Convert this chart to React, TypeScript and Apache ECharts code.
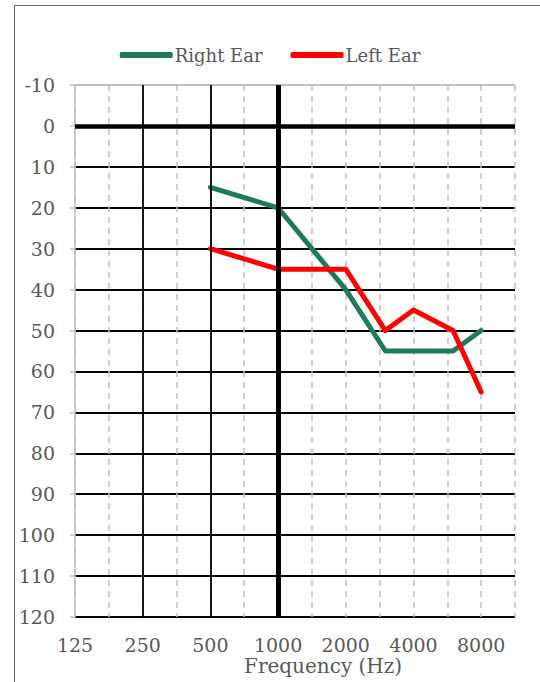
import React, { useEffect, useRef } from "react";
import * as echarts from "echarts";

// X tick labels (Hz), one every two grid steps
const freqLabels = ["125", "250", "500", "1000", "2000", "4000", "8000"];
// Measured frequencies (Hz)
const testFreqs = [500, 1000, 2000, 3000, 4000, 6000, 8000];
// Hearing thresholds (dB)
const rightEar = [15, 20, 40, 55, 55, 55, 50];
const leftEar = [30, 35, 35, 50, 45, 50, 65];
// Reference lines
const boldFreqs = [250, 500];
const heavyFreq = 1000;
const zeroLevel = 0;

const FONT = "DejaVu Serif";
const GREY_TXT = "#595959";
const GRID_GREY = "#c0c0c0";

// position on axis: 2 grid steps per octave starting at 125 Hz
const pos = (f: number) => Math.log2(f / 125) * 2;

export default function App() {
  const ref = useRef<HTMLDivElement>(null);
  useEffect(() => {
    if (!ref.current) return;
    const chart = echarts.init(ref.current, null, { renderer: "svg" });
    const yColors = [GRID_GREY];
    for (let i = 0; i < 13; i++) yColors.push("#000");
    chart.setOption({
      animation: false,
      backgroundColor: "#fff",
      grid: { left: 75, right: 25, top: 85, bottom: 65 },
      legend: {
        top: 41,
        left: "center",
        itemWidth: 53,
        itemHeight: 6,
        itemGap: 28,
        icon: "roundRect",
        textStyle: { fontFamily: FONT, fontSize: 18, color: GREY_TXT, padding: [0, 0, 0, -3] },
        data: ["Right Ear", "Left Ear"],
      },
      xAxis: {
        type: "value",
        min: 0,
        max: 13,
        interval: 1,
        axisLine: { show: true, lineStyle: { color: GRID_GREY } },
        axisTick: { show: false },
        axisLabel: {
          fontFamily: FONT,
          fontSize: 19,
          color: GREY_TXT,
          margin: 18,
          showMaxLabel: true,
          formatter: (v: number) => (v % 2 === 0 && v / 2 < freqLabels.length ? freqLabels[v / 2] : ""),
        },
        splitLine: { show: true, lineStyle: { color: GRID_GREY, width: 1.5, type: [6, 5] } },
      },
      yAxis: {
        type: "value",
        inverse: true,
        min: -10,
        max: 120,
        interval: 10,
        axisLine: { show: true, lineStyle: { color: GRID_GREY, width: 1.5 } },
        axisTick: { show: true, length: 5, lineStyle: { color: GRID_GREY, width: 1.5 } },
        axisLabel: { fontFamily: FONT, fontSize: 19, color: GREY_TXT, margin: 20 },
        splitLine: { show: true, lineStyle: { color: yColors, width: 1.8 } },
      },
      graphic: [
        {
          type: "rect",
          shape: { x: 14.5, y: 5.5, width: 540, height: 700 },
          style: { fill: "none", stroke: "#666", lineWidth: 1 },
          silent: true,
        },
        {
          type: "text",
          left: 244,
          top: 656,
          style: { text: "Frequency (Hz)", font: `20px "${FONT}"`, fill: GREY_TXT },
        },
      ],
      series: [
        {
          type: "line",
          name: "ref",
          data: [],
          z: 1,
          silent: true,
          markLine: {
            silent: true,
            symbol: "none",
            label: { show: false },
            animation: false,
            data: [
              { xAxis: pos(boldFreqs[0]), lineStyle: { color: "#000", width: 1.8, type: "solid" } },
              { xAxis: pos(boldFreqs[1]), lineStyle: { color: "#000", width: 1.8, type: "solid" } },
              { xAxis: pos(heavyFreq), lineStyle: { color: "#000", width: 5, type: "solid" } },
              { yAxis: zeroLevel, lineStyle: { color: "#000", width: 4.5, type: "solid" } },
            ],
          },
        },
        {
          type: "line",
          name: "Right Ear",
          data: testFreqs.map((f, i) => [pos(f), rightEar[i]]),
          symbol: "none",
          z: 3,
          color: "#1E7B59",
          lineStyle: { color: "#1E7B59", width: 5, cap: "round", join: "round" },
        },
        {
          type: "line",
          name: "Left Ear",
          data: testFreqs.map((f, i) => [pos(f), leftEar[i]]),
          symbol: "none",
          z: 4,
          color: "#FF0000",
          lineStyle: { color: "#FF0000", width: 5, cap: "round", join: "round" },
        },
      ],
    });
    return () => chart.dispose();
  }, []);
  return <div ref={ref} style={{ position: "absolute", left: 0, top: 0, width: 540, height: 682 }} />;
}
